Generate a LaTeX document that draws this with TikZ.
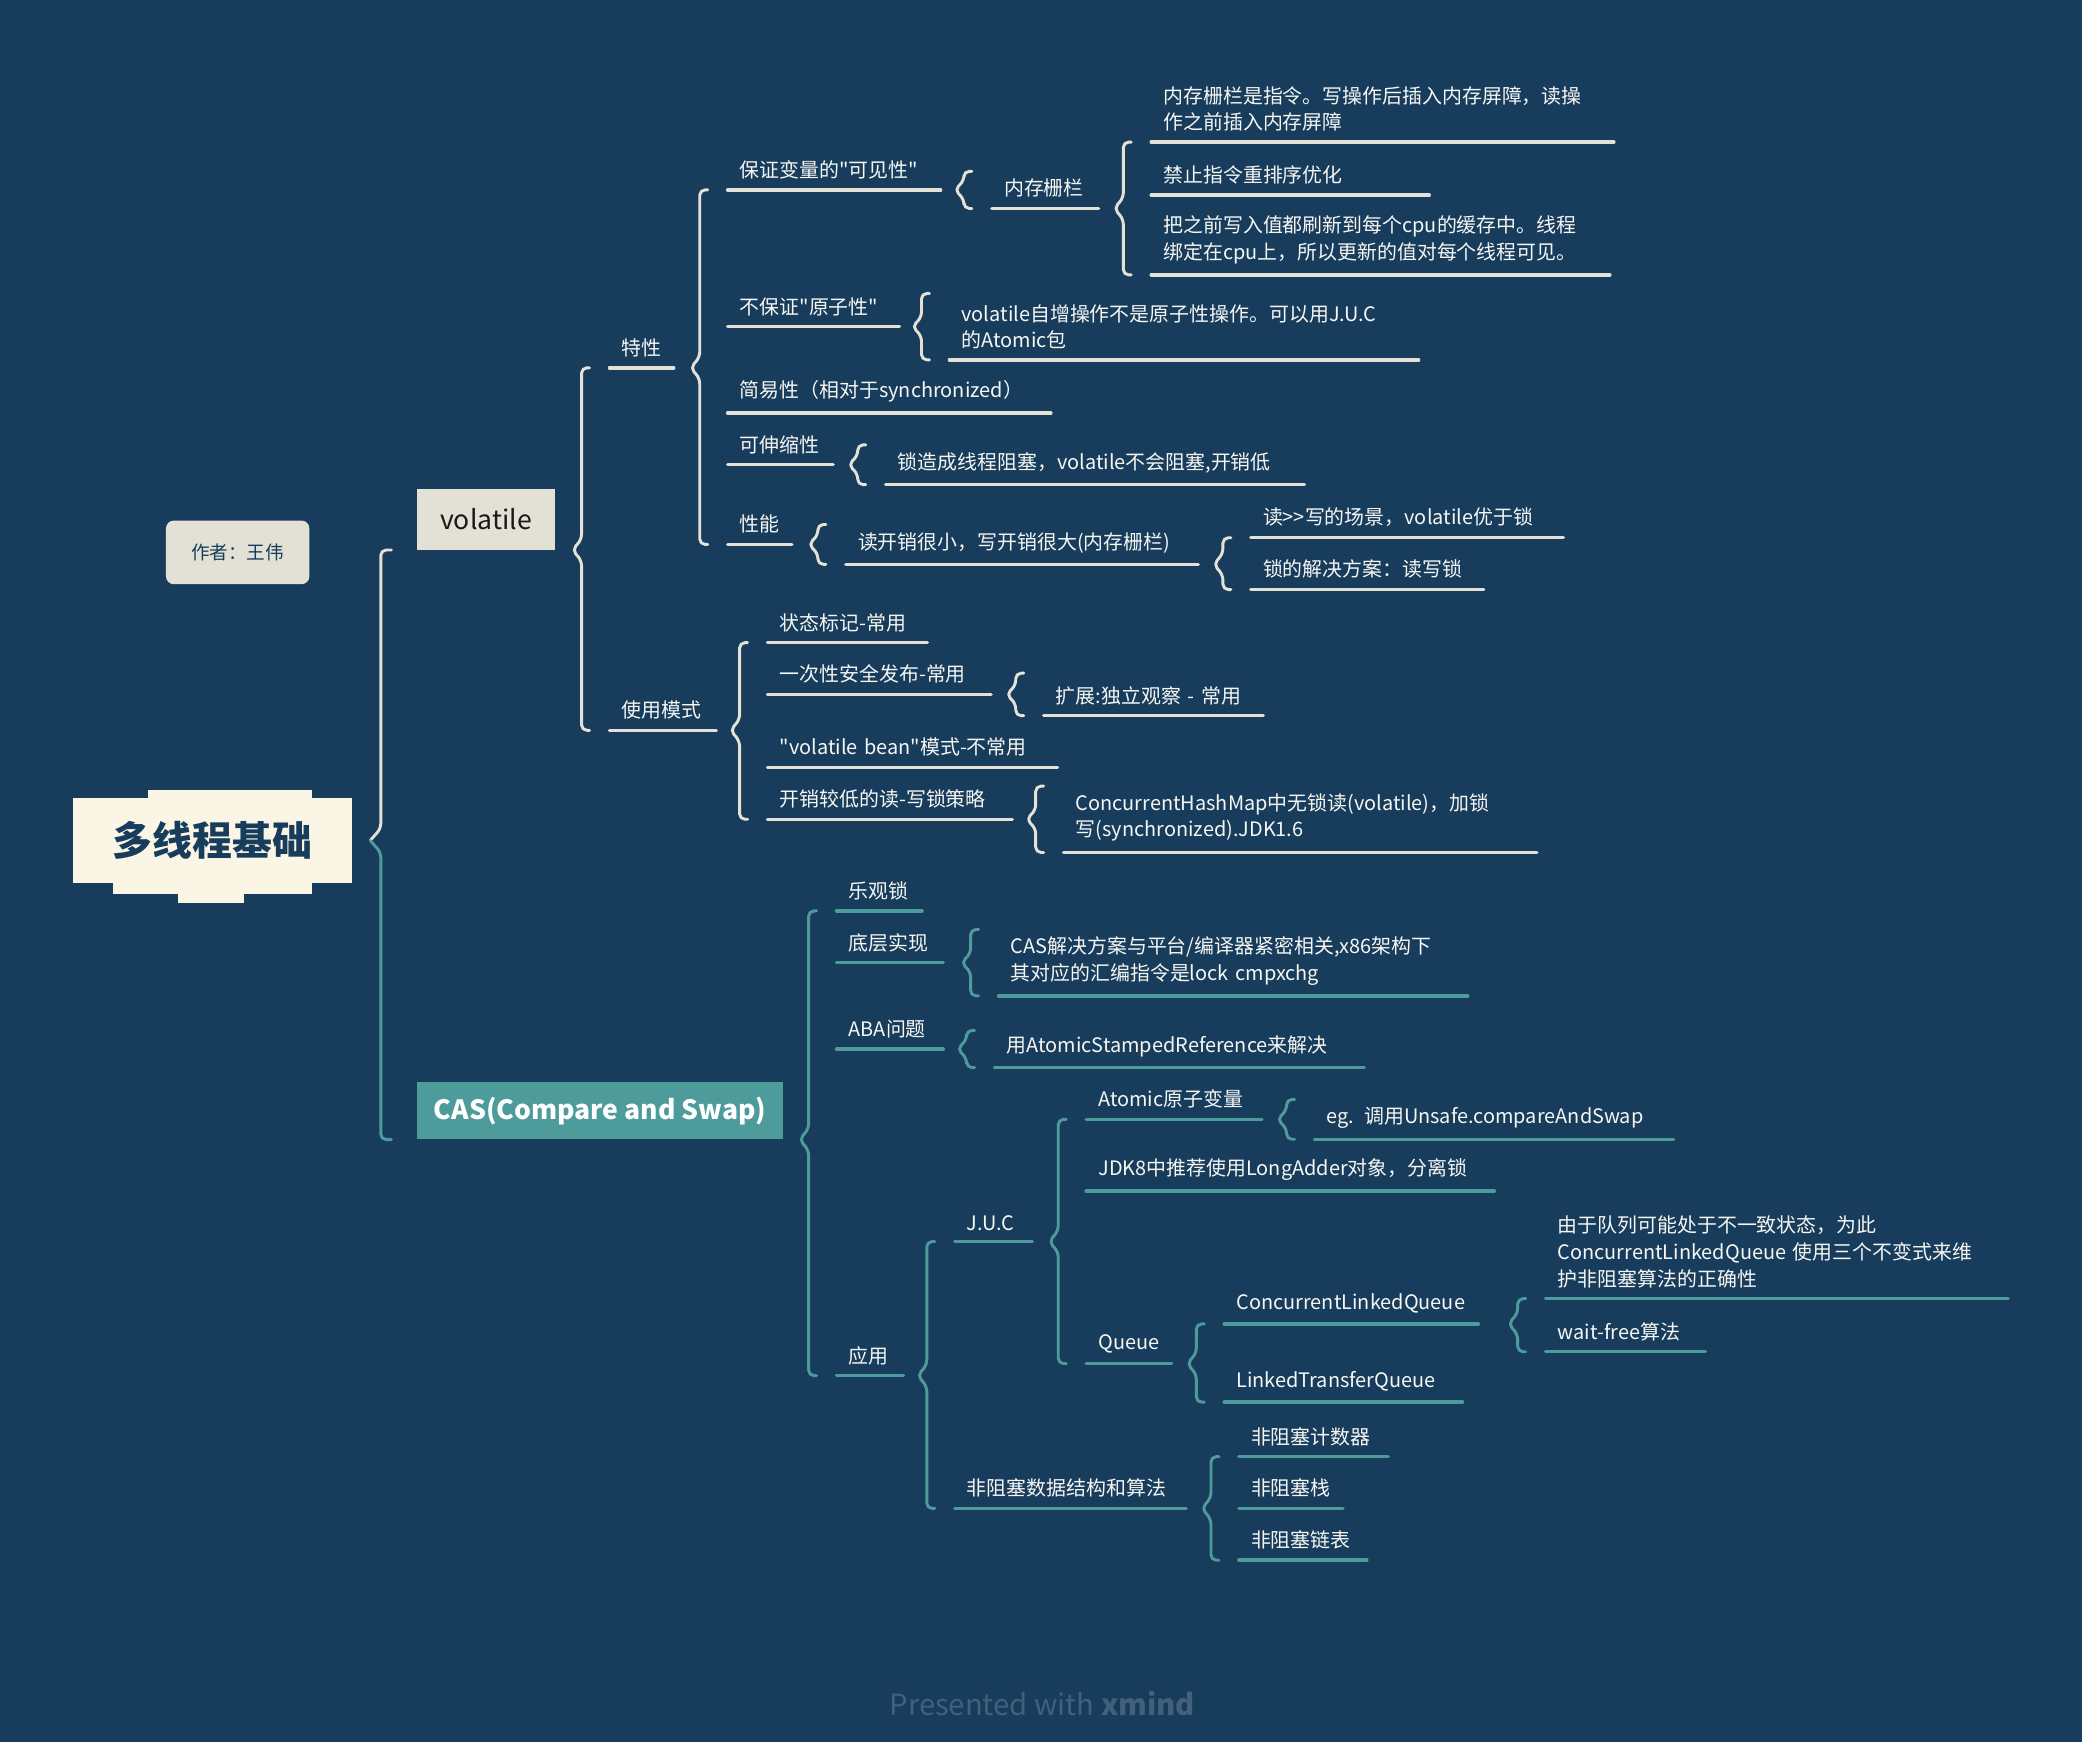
\documentclass[tikz,border=0pt]{standalone}
\usepackage{fontspec}
\newfontfamily\cjk[Ligatures=TeXOff]{Noto Sans CJK SC}
\usepackage{tikz}
\usetikzlibrary{calc}
\definecolor{mapbg}{RGB}{24,61,92}
\definecolor{mapink}{RGB}{246,246,243}
\definecolor{voltone}{RGB}{228,226,216}
\definecolor{castone}{RGB}{78,155,156}
\definecolor{rootfill}{RGB}{250,245,228}
\definecolor{boxfill}{RGB}{227,225,213}
\definecolor{creditgray}{RGB}{66,96,124}

% brace from a parent to a run of children
\newcommand{\mbrace}[4]{%
  \draw[#1] let \p1=(#3.south west), \p2=(#4.south west), \p3=(#2) in
    ({\x1-15pt},\y1) -- ({\x1-21pt},\y1) -- ({\x1-21pt},{\y3+8pt}) -- ({\x1-28pt},\y3)
    -- ({\x1-21pt},{\y3-8pt}) -- ({\x1-21pt},\y2) -- ({\x1-15pt},\y2);}
% brace to a single child, mirrored about the parent
\newcommand{\sbrace}[3]{%
  \draw[#1] let \p1=(#3.south west), \p3=(#2) in
    ({\x1-15pt},{2*(\y3)-(\y1)}) -- ({\x1-21pt},{2*(\y3)-(\y1)}) -- ({\x1-21pt},{\y3+7pt}) -- ({\x1-28pt},\y3)
    -- ({\x1-21pt},{\y3-7pt}) -- ({\x1-21pt},\y1) -- ({\x1-15pt},\y1);}

\begin{document}
\begin{tikzpicture}[
    x=1pt, y=-1pt,
    topic/.style={font=\cjk\fontsize{15}{20}\selectfont, text=mapink, anchor=south west, align=left, inner xsep=9pt, inner ysep=8pt},
    tw/.style={text width=#1pt},
    vul/.style={draw=voltone, line width=2.6pt, line cap=round},
    cul/.style={draw=castone, line width=2.6pt, line cap=round},
    vbr/.style={draw=voltone, line width=2.2pt, line cap=round, line join=round, rounded corners=4pt},
    cbr/.style={draw=castone, line width=2.2pt, line cap=round, line join=round, rounded corners=4pt},
    rootbox/.style={fill=rootfill, minimum width=210pt, minimum height=64pt, font=\cjk\fontsize{30}{34}\selectfont\bfseries, text=mapbg},
    volbox/.style={fill=boxfill, minimum width=104pt, minimum height=46pt, font=\cjk\fontsize{20}{24}\selectfont, text=black!90},
    casbox/.style={fill=castone, minimum width=276pt, minimum height=43pt, font=\cjk\fontsize{20}{24}\selectfont\bfseries, text=white},
    authbox/.style={fill=boxfill, rounded corners=6pt, minimum width=108pt, minimum height=48pt, font=\cjk\fontsize{14}{16}\selectfont, text=mapbg}
]
\fill[mapbg] (0,0) rectangle (1568,1312);
\useasboundingbox (0,0) rectangle (1568,1312);

% main boxes
\node[rootbox] (root) at (160,633) {多线程基础};
\fill[rootfill] ($(root.north west)+(57,0)$) rectangle ($(root.north west)+(180,-6)$);
\fill[rootfill] ($(root.south west)+(30,0)$) rectangle ($(root.south west)+(180,8)$);
\fill[rootfill] ($(root.south west)+(79,8)$) rectangle ($(root.south west)+(129,15)$);
\node[authbox] (author) at (179,416) {作者：王伟};
\node[volbox] (vol) at (366,391) {volatile};
\node[casbox] (cas) at (452,836.5) {CAS(Compare and Swap)};

% volatile branch
\node[topic,tw=30] (tex) at (459,277) {特性};
\node[topic,tw=62] (mode) at (459,550) {使用模式};
\node[topic,tw=142] (vis) at (548,143) {保证变量的"可见性"};
\node[topic,tw=111] (atom) at (548,246) {不保证"原子性"};
\node[topic,tw=225] (simp) at (548,311) {简易性（相对于synchronized）};
\node[topic,tw=61] (scal) at (548,350) {可伸缩性};
\node[topic,tw=30] (perf) at (548,410) {性能};
\node[topic,tw=62] (fence) at (747,157) {内存栅栏};
\node[topic,tw=330] (fenceA) at (867,107) {内存栅栏是指令。写操作后插入内存屏障，读操\\作之前插入内存屏障};
\node[topic,tw=191] (fenceB) at (867,147) {禁止指令重排序优化};
\node[topic,tw=327] (fenceC) at (867,207) {把之前写入值都刷新到每个cpu的缓存中。线程\\绑定在cpu上，所以更新的值对每个线程可见。};
\node[topic,tw=335] (atomA) at (715,271) {volatile自增操作不是原子性操作。可以用J.U.C\\的Atomic包};
\node[topic,tw=297] (scalA) at (667,365) {锁造成线程阻塞，volatile不会阻塞,开销低};
\node[topic,tw=247] (perfA) at (637,425) {读开销很小，写开销很大(内存栅栏)};
\node[topic,tw=217] (perfB) at (942,405) {读>>写的场景，volatile优于锁};
\node[topic,tw=157] (perfC) at (942,444) {锁的解决方案：读写锁};
\node[topic,tw=102] (flag) at (578,484) {状态标记-常用};
\node[topic,tw=150] (pub) at (578,523) {一次性安全发布-常用};
\node[topic,tw=200] (bean) at (578,578) {"volatile bean"模式-不常用};
\node[topic,tw=166] (rwl) at (578,617) {开销较低的读-写锁策略};
\node[topic,tw=147] (pubA) at (786,539) {扩展:独立观察 - 常用};
\node[topic,tw=338] (rwlA) at (801,642) {ConcurrentHashMap中无锁读(volatile)，加锁\\写(synchronized).JDK1.6};

% CAS branch
\node[topic,tw=46] (opt) at (630,686) {乐观锁};
\node[topic,tw=62] (impl) at (630,725) {底层实现};
\node[topic,tw=62] (aba) at (630,790) {ABA问题};
\node[topic,tw=32] (app) at (630,1036) {应用};
\node[topic,tw=335] (implA) at (752,750) {CAS解决方案与平台/编译器紧密相关,x86架构下\\其对应的汇编指令是lock cmpxchg};
\node[topic,tw=260] (abaA) at (749,804) {用AtomicStampedReference来解决};
\node[topic,tw=40] (juc) at (719,935) {J.U.C};
\node[topic,tw=156] (nbds) at (719,1136) {非阻塞数据结构和算法};
\node[topic,tw=114] (atomv) at (818,843) {Atomic原子变量};
\node[topic,tw=289] (adder) at (818,897) {JDK8中推荐使用LongAdder对象，分离锁};
\node[topic,tw=46] (queue) at (818,1027) {Queue};
\node[topic,tw=252] (atomvA) at (990,858) {eg. 调用Unsafe.compareAndSwap};
\node[topic,tw=173] (clq) at (922,997) {ConcurrentLinkedQueue};
\node[topic,tw=161] (ltq) at (922,1056) {LinkedTransferQueue};
\node[topic,tw=330] (clqA) at (1164,978) {由于队列可能处于不一致状态，为此\\ConcurrentLinkedQueue 使用三个不变式来维\\护非阻塞算法的正确性};
\node[topic,tw=102] (clqB) at (1164,1018) {wait-free算法};
\node[topic,tw=94] (cnt) at (933,1097) {非阻塞计数器};
\node[topic,tw=60] (stk) at (933,1136) {非阻塞栈};
\node[topic,tw=78] (lst) at (933,1175) {非阻塞链表};

\node[font=\cjk\fontsize{22}{26}\selectfont, text=creditgray] (credit) at (785,1283) {Presented with \textbf{xmind}};

% underlines
\foreach \n in {tex,mode,vis,atom,simp,scal,perf,fence,fenceA,fenceB,fenceC,atomA,scalA,perfA,perfB,perfC,flag,pub,bean,rwl,pubA,rwlA}
  \draw[vul] (\n.south west) -- (\n.south east);
\foreach \n in {opt,impl,aba,app,implA,abaA,juc,nbds,atomv,adder,queue,atomvA,clq,ltq,clqA,clqB,cnt,stk,lst}
  \draw[cul] (\n.south west) -- (\n.south east);

% root brace
\draw[vbr] let \p1=(vol.south west), \p2=(root.east) in
  ({\x1-19pt},\y1) -- ({\x1-27pt},\y1) -- ({\x1-27pt},{\y2+9pt}) -- ({\x1-35pt},\y2);
\draw[cbr] let \p1=(cas.south west), \p2=(root.east) in
  ({\x1-35pt},\y2) -- ({\x1-27pt},{\y2-9pt}) -- ({\x1-27pt},\y1) -- ({\x1-19pt},\y1);

% volatile braces
\mbrace{vbr}{vol.south}{tex}{mode}
\mbrace{vbr}{tex.south}{vis}{perf}
\sbrace{vbr}{vis.south}{fence}
\mbrace{vbr}{fence.south}{fenceA}{fenceC}
\sbrace{vbr}{atom.south}{atomA}
\sbrace{vbr}{scal.south}{scalA}
\sbrace{vbr}{perf.south}{perfA}
\mbrace{vbr}{perfA.south}{perfB}{perfC}
\mbrace{vbr}{mode.south}{flag}{rwl}
\sbrace{vbr}{pub.south}{pubA}
\sbrace{vbr}{rwl.south}{rwlA}

% CAS braces
\mbrace{cbr}{cas.south}{opt}{app}
\sbrace{cbr}{impl.south}{implA}
\sbrace{cbr}{aba.south}{abaA}
\mbrace{cbr}{app.south}{juc}{nbds}
\mbrace{cbr}{juc.south}{atomv}{queue}
\sbrace{cbr}{atomv.south}{atomvA}
\mbrace{cbr}{queue.south}{clq}{ltq}
\mbrace{cbr}{clq.south}{clqA}{clqB}
\mbrace{cbr}{nbds.south}{cnt}{lst}

\end{tikzpicture}
\end{document}
